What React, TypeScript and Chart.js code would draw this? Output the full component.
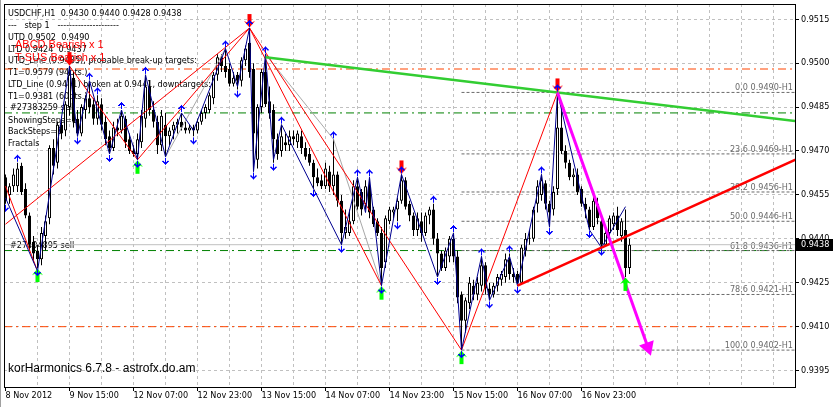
import React, { useEffect, useRef } from 'react';
import { Chart, registerables } from 'chart.js';

Chart.register(...registerables);

const FONT = "'DejaVu Sans Condensed', 'Liberation Sans', Arial, sans-serif";
const FONT2 = "'Liberation Sans', Arial, sans-serif";

// ---- candle data (USDCHF H1), one entry per bar ----
const opens = [
  0.9461, 0.9455, 0.9458, 0.9458, 0.9465, 0.9457, 0.9448, 0.9439, 0.9436, 0.9433,
  0.9441, 0.9447, 0.9471, 0.9466, 0.9479, 0.9477, 0.9485, 0.9495, 0.9481, 0.9476,
  0.9484, 0.9488, 0.9486, 0.9481, 0.9486, 0.9480, 0.9475, 0.9471, 0.9478, 0.9477,
  0.9481, 0.9474, 0.9470, 0.9469, 0.9473, 0.9481, 0.9492, 0.9484, 0.9480, 0.9472,
  0.9479, 0.9475, 0.9477, 0.9479, 0.9480, 0.9478, 0.9477, 0.9478, 0.9477, 0.9480,
  0.9483, 0.9484, 0.9488, 0.9496, 0.9502, 0.9499, 0.9498, 0.9493, 0.9496, 0.9494,
  0.9501, 0.9507, 0.9498, 0.9467, 0.9485, 0.9497, 0.9487, 0.9484, 0.9474, 0.9470,
  0.9473, 0.9472, 0.9475, 0.9473, 0.9475, 0.9471, 0.9469, 0.9466, 0.9461, 0.9460,
  0.9458, 0.9463, 0.9458, 0.9462, 0.9453, 0.9442, 0.9442, 0.9446, 0.9458, 0.9456,
  0.9452, 0.9458, 0.9450, 0.9446, 0.9442, 0.9432, 0.9446, 0.9449, 0.9450, 0.9453,
  0.9460, 0.9452, 0.9448, 0.9443, 0.9446, 0.9442, 0.9448, 0.9450, 0.9440, 0.9435,
  0.9430, 0.9434, 0.9440, 0.9434, 0.9421, 0.9412, 0.9418, 0.9424, 0.9421, 0.9424,
  0.9431, 0.9423, 0.9421, 0.9424, 0.9426, 0.9427, 0.9433, 0.9428, 0.9428, 0.9425,
  0.9436, 0.9440, 0.9440, 0.9452, 0.9455, 0.9459, 0.9452, 0.9450, 0.9457, 0.9478,
  0.9470, 0.9466, 0.9461, 0.9462, 0.9457, 0.9452, 0.9450, 0.9444, 0.9452, 0.9446,
  0.9438, 0.9442, 0.9445, 0.9448, 0.9441, 0.9443, 0.9430,
];
const highs = [
  0.9462, 0.9459, 0.9464, 0.9466, 0.9466, 0.9459, 0.9449, 0.9441, 0.9438, 0.9444,
  0.9448, 0.9472, 0.9474, 0.9480, 0.9481, 0.9487, 0.9499, 0.9497, 0.9484, 0.9486,
  0.9489, 0.9494, 0.9488, 0.9489, 0.9488, 0.9482, 0.9477, 0.9480, 0.9481, 0.9484,
  0.9482, 0.9476, 0.9472, 0.9476, 0.9484, 0.9496, 0.9494, 0.9487, 0.9482, 0.9484,
  0.9483, 0.9478, 0.9480, 0.9481, 0.9483, 0.9480, 0.9479, 0.9479, 0.9481, 0.9484,
  0.9486, 0.9490, 0.9497, 0.9503, 0.9503, 0.9505, 0.9500, 0.9497, 0.9497, 0.9502,
  0.9506, 0.9512, 0.9500, 0.9486, 0.9498, 0.9503, 0.9492, 0.9486, 0.9476, 0.9479,
  0.9476, 0.9477, 0.9477, 0.9477, 0.9477, 0.9473, 0.9471, 0.9467, 0.9464, 0.9462,
  0.9466, 0.9465, 0.9474, 0.9463, 0.9455, 0.9450, 0.9450, 0.9460, 0.9461, 0.9457,
  0.9460, 0.9461, 0.9451, 0.9447, 0.9444, 0.9448, 0.9451, 0.9451, 0.9454, 0.9462,
  0.9461, 0.9453, 0.9449, 0.9449, 0.9449, 0.9449, 0.9451, 0.9452, 0.9442, 0.9436,
  0.9437, 0.9441, 0.9442, 0.9436, 0.9422, 0.9420, 0.9427, 0.9426, 0.9427, 0.9434,
  0.9432, 0.9425, 0.9425, 0.9428, 0.9429, 0.9435, 0.9435, 0.9430, 0.9429, 0.9438,
  0.9442, 0.9443, 0.9451, 0.9460, 0.9462, 0.9460, 0.9453, 0.9458, 0.9490, 0.9487,
  0.9472, 0.9467, 0.9464, 0.9464, 0.9458, 0.9454, 0.9451, 0.9455, 0.9454, 0.9447,
  0.9444, 0.9448, 0.9449, 0.9451, 0.9447, 0.9450, 0.9440,
];
const lows = [
  0.9452, 0.9452, 0.9456, 0.9456, 0.9455, 0.9447, 0.9436, 0.9432, 0.9430, 0.9431,
  0.9436, 0.9445, 0.9462, 0.9464, 0.9474, 0.9475, 0.9482, 0.9478, 0.9475, 0.9475,
  0.9481, 0.9483, 0.9479, 0.9479, 0.9477, 0.9472, 0.9469, 0.9470, 0.9475, 0.9476,
  0.9471, 0.9469, 0.9468, 0.9467, 0.9471, 0.9478, 0.9482, 0.9478, 0.9469, 0.9470,
  0.9468, 0.9472, 0.9474, 0.9476, 0.9477, 0.9476, 0.9476, 0.9475, 0.9476, 0.9479,
  0.9481, 0.9483, 0.9486, 0.9494, 0.9497, 0.9495, 0.9492, 0.9492, 0.9491, 0.9492,
  0.9499, 0.9495, 0.9463, 0.9464, 0.9483, 0.9485, 0.9481, 0.9466, 0.9467, 0.9468,
  0.9470, 0.9470, 0.9472, 0.9471, 0.9469, 0.9467, 0.9465, 0.9457, 0.9458, 0.9457,
  0.9457, 0.9456, 0.9455, 0.9451, 0.9438, 0.9440, 0.9441, 0.9445, 0.9450, 0.9448,
  0.9450, 0.9447, 0.9444, 0.9441, 0.9424, 0.9430, 0.9445, 0.9447, 0.9446, 0.9452,
  0.9450, 0.9446, 0.9441, 0.9441, 0.9439, 0.9441, 0.9445, 0.9438, 0.9427, 0.9429,
  0.9429, 0.9432, 0.9432, 0.9418, 0.9402, 0.9408, 0.9416, 0.9419, 0.9419, 0.9422,
  0.9421, 0.9419, 0.9420, 0.9422, 0.9424, 0.9425, 0.9426, 0.9425, 0.9424, 0.9425,
  0.9434, 0.9438, 0.9439, 0.9449, 0.9453, 0.9450, 0.9444, 0.9448, 0.9455, 0.9469,
  0.9464, 0.9460, 0.9458, 0.9455, 0.9451, 0.9447, 0.9443, 0.9443, 0.9445, 0.9437,
  0.9438, 0.9440, 0.9443, 0.9441, 0.9439, 0.9427, 0.9428,
];
const closes = [
  0.9453, 0.9458, 0.9462, 0.9464, 0.9456, 0.9448, 0.9438, 0.9435, 0.9433, 0.9442,
  0.9446, 0.9471, 0.9465, 0.9479, 0.9476, 0.9486, 0.9496, 0.9480, 0.9476, 0.9485,
  0.9488, 0.9485, 0.9481, 0.9487, 0.9479, 0.9474, 0.9471, 0.9478, 0.9477, 0.9482,
  0.9473, 0.9470, 0.9469, 0.9474, 0.9482, 0.9492, 0.9484, 0.9480, 0.9472, 0.9482,
  0.9475, 0.9477, 0.9479, 0.9480, 0.9478, 0.9477, 0.9478, 0.9477, 0.9480, 0.9483,
  0.9485, 0.9489, 0.9496, 0.9502, 0.9499, 0.9497, 0.9493, 0.9495, 0.9494, 0.9501,
  0.9505, 0.9497, 0.9476, 0.9485, 0.9497, 0.9486, 0.9483, 0.9474, 0.9469, 0.9475,
  0.9472, 0.9475, 0.9474, 0.9476, 0.9471, 0.9468, 0.9466, 0.9461, 0.9459, 0.9458,
  0.9464, 0.9458, 0.9462, 0.9453, 0.9442, 0.9444, 0.9446, 0.9458, 0.9451, 0.9450,
  0.9458, 0.9449, 0.9445, 0.9442, 0.9430, 0.9447, 0.9450, 0.9450, 0.9453, 0.9460,
  0.9451, 0.9448, 0.9443, 0.9447, 0.9442, 0.9448, 0.9450, 0.9440, 0.9435, 0.9430,
  0.9436, 0.9440, 0.9434, 0.9420, 0.9412, 0.9419, 0.9425, 0.9421, 0.9425, 0.9431,
  0.9423, 0.9421, 0.9424, 0.9427, 0.9428, 0.9433, 0.9428, 0.9427, 0.9425, 0.9437,
  0.9440, 0.9440, 0.9450, 0.9458, 0.9460, 0.9452, 0.9449, 0.9456, 0.9478, 0.9470,
  0.9466, 0.9461, 0.9462, 0.9456, 0.9452, 0.9450, 0.9444, 0.9453, 0.9447, 0.9438,
  0.9442, 0.9447, 0.9448, 0.9443, 0.9446, 0.9430, 0.9438,
];

// ---- axes ----
const timeTickLabels = [
  '8 Nov 2012', '9 Nov 15:00', '12 Nov 07:00', '12 Nov 23:00', '13 Nov 15:00',
  '14 Nov 07:00', '14 Nov 23:00', '15 Nov 15:00', '16 Nov 07:00', '16 Nov 23:00',
];
const priceTicks = [0.9395, 0.941, 0.9425, 0.944, 0.9455, 0.947, 0.9485, 0.95, 0.9515];
const currentPrice = 0.9438;

// ---- levels ----
const fibPercents = [0, 23.6, 38.2, 50, 61.8, 78.6, 100];
const fibPrices = [0.949, 0.9469, 0.9456, 0.9446, 0.9436, 0.9421, 0.9402];
const fibStartBar = 114;
const targetLevels = [0.9498, 0.941];
const orderLevels = [0.9483, 0.9436];
const orderLabels = ['#27383259 sell', '#27404895 sell'];

// ---- zigzags / pattern lines (bar index, price) ----
const blueZigzag: [number, number][] = [
  [0, 0.9454], [8, 0.9429], [16, 0.9499], [18, 0.9475], [21, 0.9494], [26, 0.9469],
  [29, 0.9484], [33, 0.9467], [35, 0.9496], [40, 0.9468], [44, 0.9483], [47, 0.9477],
  [55, 0.9505], [58, 0.9492], [61, 0.9512], [62, 0.9463], [65, 0.9503], [67, 0.9467],
  [69, 0.9479], [84, 0.9438], [88, 0.9461], [90, 0.9449], [91, 0.9461], [94, 0.9424],
  [99, 0.9462], [108, 0.9427], [112, 0.9442], [114, 0.9402], [119, 0.9434], [121, 0.9419],
  [126, 0.9434], [128, 0.9424], [134, 0.9462], [136, 0.9444], [138, 0.949], [146, 0.9443],
  [149, 0.9437], [155, 0.9451],
];
const redPatternLines: [number, number][][] = [
  [[0, 0.9445], [61, 0.9512]],
  [[0, 0.9458], [8, 0.9429]],
  [[16, 0.9499], [33, 0.9467]],
  [[33, 0.9467], [61, 0.9512]],
  [[61, 0.9512], [114, 0.9402]],
  [[61, 0.9512], [94, 0.9424]],
  [[114, 0.9402], [138, 0.949]],
];
const grayLines: [number, number][][] = [
  [[40, 0.9468], [55, 0.9505]],
  [[65, 0.9503], [82, 0.9474]],
  [[82, 0.9474], [94, 0.9424]],
];
const utdAnchors: [number, number][] = [[65, 0.9502], [138, 0.949]];
const ltdAnchors: [number, number][] = [[128, 0.9424], [149, 0.9437]];
const projection: [number, number][] = [[138, 0.949], [160.6, 0.9403]];

const upFractalBars = [3, 21, 23, 29, 35, 44, 55, 61, 65, 69, 82, 88, 91, 99, 107, 112, 119, 126, 134, 138];
const downFractalBars = [0, 8, 18, 26, 33, 40, 47, 58, 62, 67, 77, 84, 94, 98, 108, 114, 121, 128, 136, 146, 149];
const topArrowBars = [16, 61, 99, 138];
const bottomArrowBars = [8, 33, 94, 114, 155];

// ---- texts ----
const commentLines = [
  'USDCHF,H1  0.9430 0.9440 0.9428 0.9438',
  '---   step 1   ---------------------',
  'UTD 0.9502  0.9490',
  'LTD 0.9424  0.9437',
  'UTD_Line (0.9485), probable break-up targets:',
  'T1=0.9579 (94pts.)',
  'LTD_Line (0.9441) broken at 0.9441, downtargets:',
  'T1=0.9381 (60pts.)',
  '',
  'ShowingSteps=1',
  'BackSteps=0',
  'Fractals',
];
const patternLabels = ['ABCD Bearish x 1', 'T-SUS Bearish x 1'];
const footerLabel = 'korHarmonics 6.7.8 - astrofx.do.am';

const X_MIN = -0.375;
const X_MAX = 197.375;
const Y_MIN = 0.93894;
const Y_MAX = 0.95202;

function ray(a: [number, number], b: [number, number], xEnd: number) {
  const m = (b[1] - a[1]) / (b[0] - a[0]);
  return [a, b, [xEnd, b[1] + m * (xEnd - b[0])]].map(([x, y]) => ({ x, y }));
}

function fractalGlyph(up: boolean) {
  const c = document.createElement('canvas');
  c.width = 7;
  c.height = 22;
  const g = c.getContext('2d')!;
  g.fillStyle = '#0000ff';
  const rows: [number, number[]][] = [
    [3, [3]], [4, [2, 3, 4]], [5, [1, 2, 3, 4, 5]], [6, [0, 1, 3, 5, 6]], [7, [3]], [8, [3]], [9, [3]],
  ];
  rows.forEach(([r, xs]) => xs.forEach((xx) => g.fillRect(xx, up ? r : 21 - r, 1, 1)));
  return c;
}

function bigArrowGlyph(down: boolean, color: string) {
  const c = document.createElement('canvas');
  c.width = 11;
  c.height = 30;
  const g = c.getContext('2d')!;
  g.fillStyle = color;
  const pts = [[5.5, 14.5], [11, 8], [7.5, 9.5], [7.5, 1], [3.5, 1], [3.5, 9.5], [0, 8]];
  g.beginPath();
  pts.forEach(([px, py], k) => {
    const yy = down ? py : 30 - py;
    if (k === 0) g.moveTo(px, yy);
    else g.lineTo(px, yy);
  });
  g.closePath();
  g.fill();
  return c;
}

const overlayPlugin = {
  id: 'overlayPlugin',
  beforeDraw(chart: any) {
    const { ctx, width, height } = chart;
    ctx.save();
    ctx.fillStyle = '#ffffff';
    ctx.fillRect(0, 0, width, height);
    ctx.fillStyle = '#a0a0a0';
    ctx.fillRect(0, 0, 1, height);
    ctx.restore();
  },
  beforeDatasetsDraw(chart: any) {
    const { ctx, chartArea: a, scales } = chart;
    const ys = scales.y;
    ctx.save();
    ctx.beginPath();
    ctx.rect(a.left, a.top, a.right - a.left, a.bottom - a.top);
    ctx.clip();
    ctx.textAlign = 'left';
    ctx.textBaseline = 'alphabetic';
    ctx.fillStyle = '#000';
    ctx.font = `9px ${FONT}`;
    commentLines.forEach((t, k) => ctx.fillText(t, a.left + 4, a.top + 12.2 + k * 11.82));
    orderLabels.forEach((t, k) => ctx.fillText(t, a.left + 6, ys.getPixelForValue(orderLevels[k]) - 2.5));
    // fib labels
    ctx.fillStyle = '#6a6a6a';
    ctx.textAlign = 'right';
    fibPrices.forEach((p, k) => {
      ctx.fillText(`${fibPercents[k].toFixed(1)} ${p.toFixed(4)}-H1`, a.right - 2, ys.getPixelForValue(p) - 2);
    });
    // pattern labels
    ctx.textAlign = 'left';
    ctx.fillStyle = '#ff0000';
    ctx.font = `11px ${FONT2}`;
    patternLabels.forEach((t, k) => ctx.fillText(t, a.left + 11, a.top + 44 + k * 13));
    // footer
    ctx.fillStyle = '#000';
    ctx.font = `12px ${FONT2}`;
    ctx.fillText(footerLabel, a.left + 4, a.bottom - 15);
    ctx.restore();
  },
  afterDraw(chart: any) {
    const { ctx, chartArea: a, scales } = chart;
    ctx.save();
    ctx.strokeStyle = '#000';
    ctx.lineWidth = 1;
    ctx.strokeRect(a.left + 0.5, a.top + 0.5, a.right - a.left, a.bottom - a.top);
    const y = scales.y.getPixelForValue(currentPrice);
    ctx.fillStyle = '#000';
    ctx.fillRect(a.right + 1, Math.round(y) - 6, 37, 12);
    ctx.fillStyle = '#fff';
    ctx.font = `9px ${FONT}`;
    ctx.textAlign = 'left';
    ctx.textBaseline = 'middle';
    ctx.fillText(currentPrice.toFixed(4), a.right + 6, Math.round(y));
    ctx.restore();
  },
};

export default function App() {
  const ref = useRef<HTMLCanvasElement>(null);
  useEffect(() => {
    document.body.style.margin = '0';
    const canvas = ref.current!;
    const line = (pts: { x: number; y: number }[], color: string, width: number, order: number, dash: number[] = []) => ({
      type: 'line',
      data: pts,
      borderColor: color,
      backgroundColor: color,
      borderWidth: width,
      borderDash: dash,
      pointRadius: 0,
      tension: 0,
      fill: false,
      order,
    });
    const xy = (arr: [number, number][]) => arr.map(([x, y]) => ({ x, y }));

    const datasets: any[] = [];
    targetLevels.forEach((p) => datasets.push(line([{ x: X_MIN, y: p }, { x: X_MAX, y: p }], '#ff4500', 1, 50, [8, 4, 2, 4])));
    orderLevels.forEach((p) => datasets.push(line([{ x: X_MIN, y: p }, { x: X_MAX, y: p }], '#008000', 1, 50, [8, 4, 2, 4])));
    datasets.push(line([{ x: X_MIN, y: currentPrice }, { x: X_MAX, y: currentPrice }], '#c0c0c0', 1, 50));
    fibPrices.forEach((p) => datasets.push(line([{ x: fibStartBar, y: p }, { x: X_MAX, y: p }], '#6a6a6a', 1, 49, [3, 2])));

    datasets.push({
      type: 'bar',
      data: lows.map((l, i) => ({ x: i, y: [l, highs[i]] })),
      backgroundColor: '#000',
      borderWidth: 0,
      barThickness: 1,
      maxBarThickness: 1,
      grouped: false,
      minBarLength: 1,
      inflateAmount: 0,
      order: 40,
    });
    datasets.push({
      type: 'bar',
      data: opens.map((o, i) => ({ x: i, y: [o, closes[i]] })),
      backgroundColor: opens.map((o, i) => (closes[i] > o ? '#ffffff' : '#000000')),
      borderColor: '#000',
      borderWidth: 1,
      borderSkipped: false,
      barThickness: 3,
      maxBarThickness: 3,
      grouped: false,
      minBarLength: 1,
      inflateAmount: 0,
      order: 39,
    });

    grayLines.forEach((seg) => datasets.push(line(xy(seg), '#a8a8a8', 1, 30)));
    redPatternLines.forEach((seg) => datasets.push(line(xy(seg), '#ff0000', 1, 29)));
    datasets.push(line(xy(blueZigzag), '#000090', 1, 28));

    datasets.push(line(ray(utdAnchors[0], utdAnchors[1], X_MAX + 3), '#32cd32', 2.5, 20));
    datasets.push(line(ray(ltdAnchors[0], ltdAnchors[1], X_MAX + 3), '#ff0000', 2.5, 19));
    const proj = line(xy(projection), '#ff00ff', 3, 18) as any;
    proj.pointRadius = [0, 6];
    proj.pointStyle = 'triangle';
    proj.pointBackgroundColor = '#ff00ff';
    proj.pointBorderColor = '#ff00ff';
    proj.pointRotation = (c: any) => {
      const ch = c.chart;
      const xs = ch.scales.x;
      const ys = ch.scales.y;
      const dx = xs.getPixelForValue(projection[1][0]) - xs.getPixelForValue(projection[0][0]);
      const dy = ys.getPixelForValue(projection[1][1]) - ys.getPixelForValue(projection[0][1]);
      return (Math.atan2(dx, -dy) * 180) / Math.PI;
    };
    datasets.push(proj);

    const pointsSet = (pts: { x: number; y: number }[], img: HTMLCanvasElement, order: number) => ({
      type: 'line',
      data: pts,
      showLine: false,
      pointStyle: img,
      pointRadius: 5,
      order,
    });
    datasets.push(pointsSet(topArrowBars.map((i) => ({ x: i, y: highs[i] })), bigArrowGlyph(true, '#ff0000'), 9));
    datasets.push(pointsSet(bottomArrowBars.map((i) => ({ x: i, y: lows[i] })), bigArrowGlyph(false, '#00ff00'), 9));
    datasets.push(pointsSet(upFractalBars.map((i) => ({ x: i, y: highs[i] })), fractalGlyph(true), 8));
    datasets.push(pointsSet(downFractalBars.map((i) => ({ x: i, y: lows[i] })), fractalGlyph(false), 8));

    const tickFont = { family: FONT, size: 9, lineHeight: 1 };
    const zeroPad = (s: any) => {
      s.paddingTop = 0;
      s.paddingBottom = 0;
      s.paddingLeft = 0;
      s.paddingRight = 0;
    };
    const chart = new Chart(canvas, {
      type: 'bar',
      data: { datasets },
      options: {
        responsive: false,
        animation: false,
        events: [],
        layout: { autoPadding: false, padding: { left: 4, top: 4, right: 0, bottom: 0 } },
        plugins: { legend: { display: false }, tooltip: { enabled: false } },
        scales: {
          x: {
            type: 'linear',
            min: X_MIN,
            max: X_MAX,
            offset: false,
            grid: {
              offset: false,
              color: (c: any) => (c.tick && c.tick.value === 0 ? 'rgba(0,0,0,0)' : '#c0c0c0'),
              lineWidth: 1,
              tickLength: 4,
              tickColor: (c: any) =>
                c.tick && c.tick.value % 16 === 0 && c.tick.value / 16 < timeTickLabels.length ? '#000' : 'rgba(0,0,0,0)',
            },
            border: { display: false, dash: [3, 3] },
            ticks: {
              autoSkip: false,
              maxRotation: 0,
              minRotation: 0,
              align: 'start',
              padding: 0,
              color: '#000',
              font: tickFont,
              callback: (v: any) => {
                const k = Number(v) / 16;
                return Number.isInteger(k) && k < timeTickLabels.length ? timeTickLabels[k] : '';
              },
            },
            afterBuildTicks: (s: any) => {
              const t = [];
              for (let v = 0; v <= X_MAX; v += 8) t.push({ value: v });
              s.ticks = t;
            },
            afterFit: (s: any) => {
              s.height = 20;
              zeroPad(s);
            },
          },
          y: {
            type: 'linear',
            position: 'right',
            min: Y_MIN,
            max: Y_MAX,
            beginAtZero: false,
            grid: { color: '#c0c0c0', lineWidth: 1, tickLength: 4, tickColor: '#000' },
            border: { display: false, dash: [3, 3] },
            ticks: {
              padding: 2,
              color: '#000',
              font: tickFont,
              autoSkip: false,
              callback: (v: any) => Number(v).toFixed(4),
            },
            afterBuildTicks: (s: any) => {
              s.ticks = priceTicks.map((v) => ({ value: v }));
            },
            afterFit: (s: any) => {
              s.width = 42;
              zeroPad(s);
            },
          },
        },
      } as any,
      plugins: [overlayPlugin],
    } as any);
    return () => chart.destroy();
  }, []);
  return (
    <div style={{ width: 837, height: 407 }}>
      <canvas ref={ref} width={837} height={407} style={{ display: 'block' }} />
    </div>
  );
}
